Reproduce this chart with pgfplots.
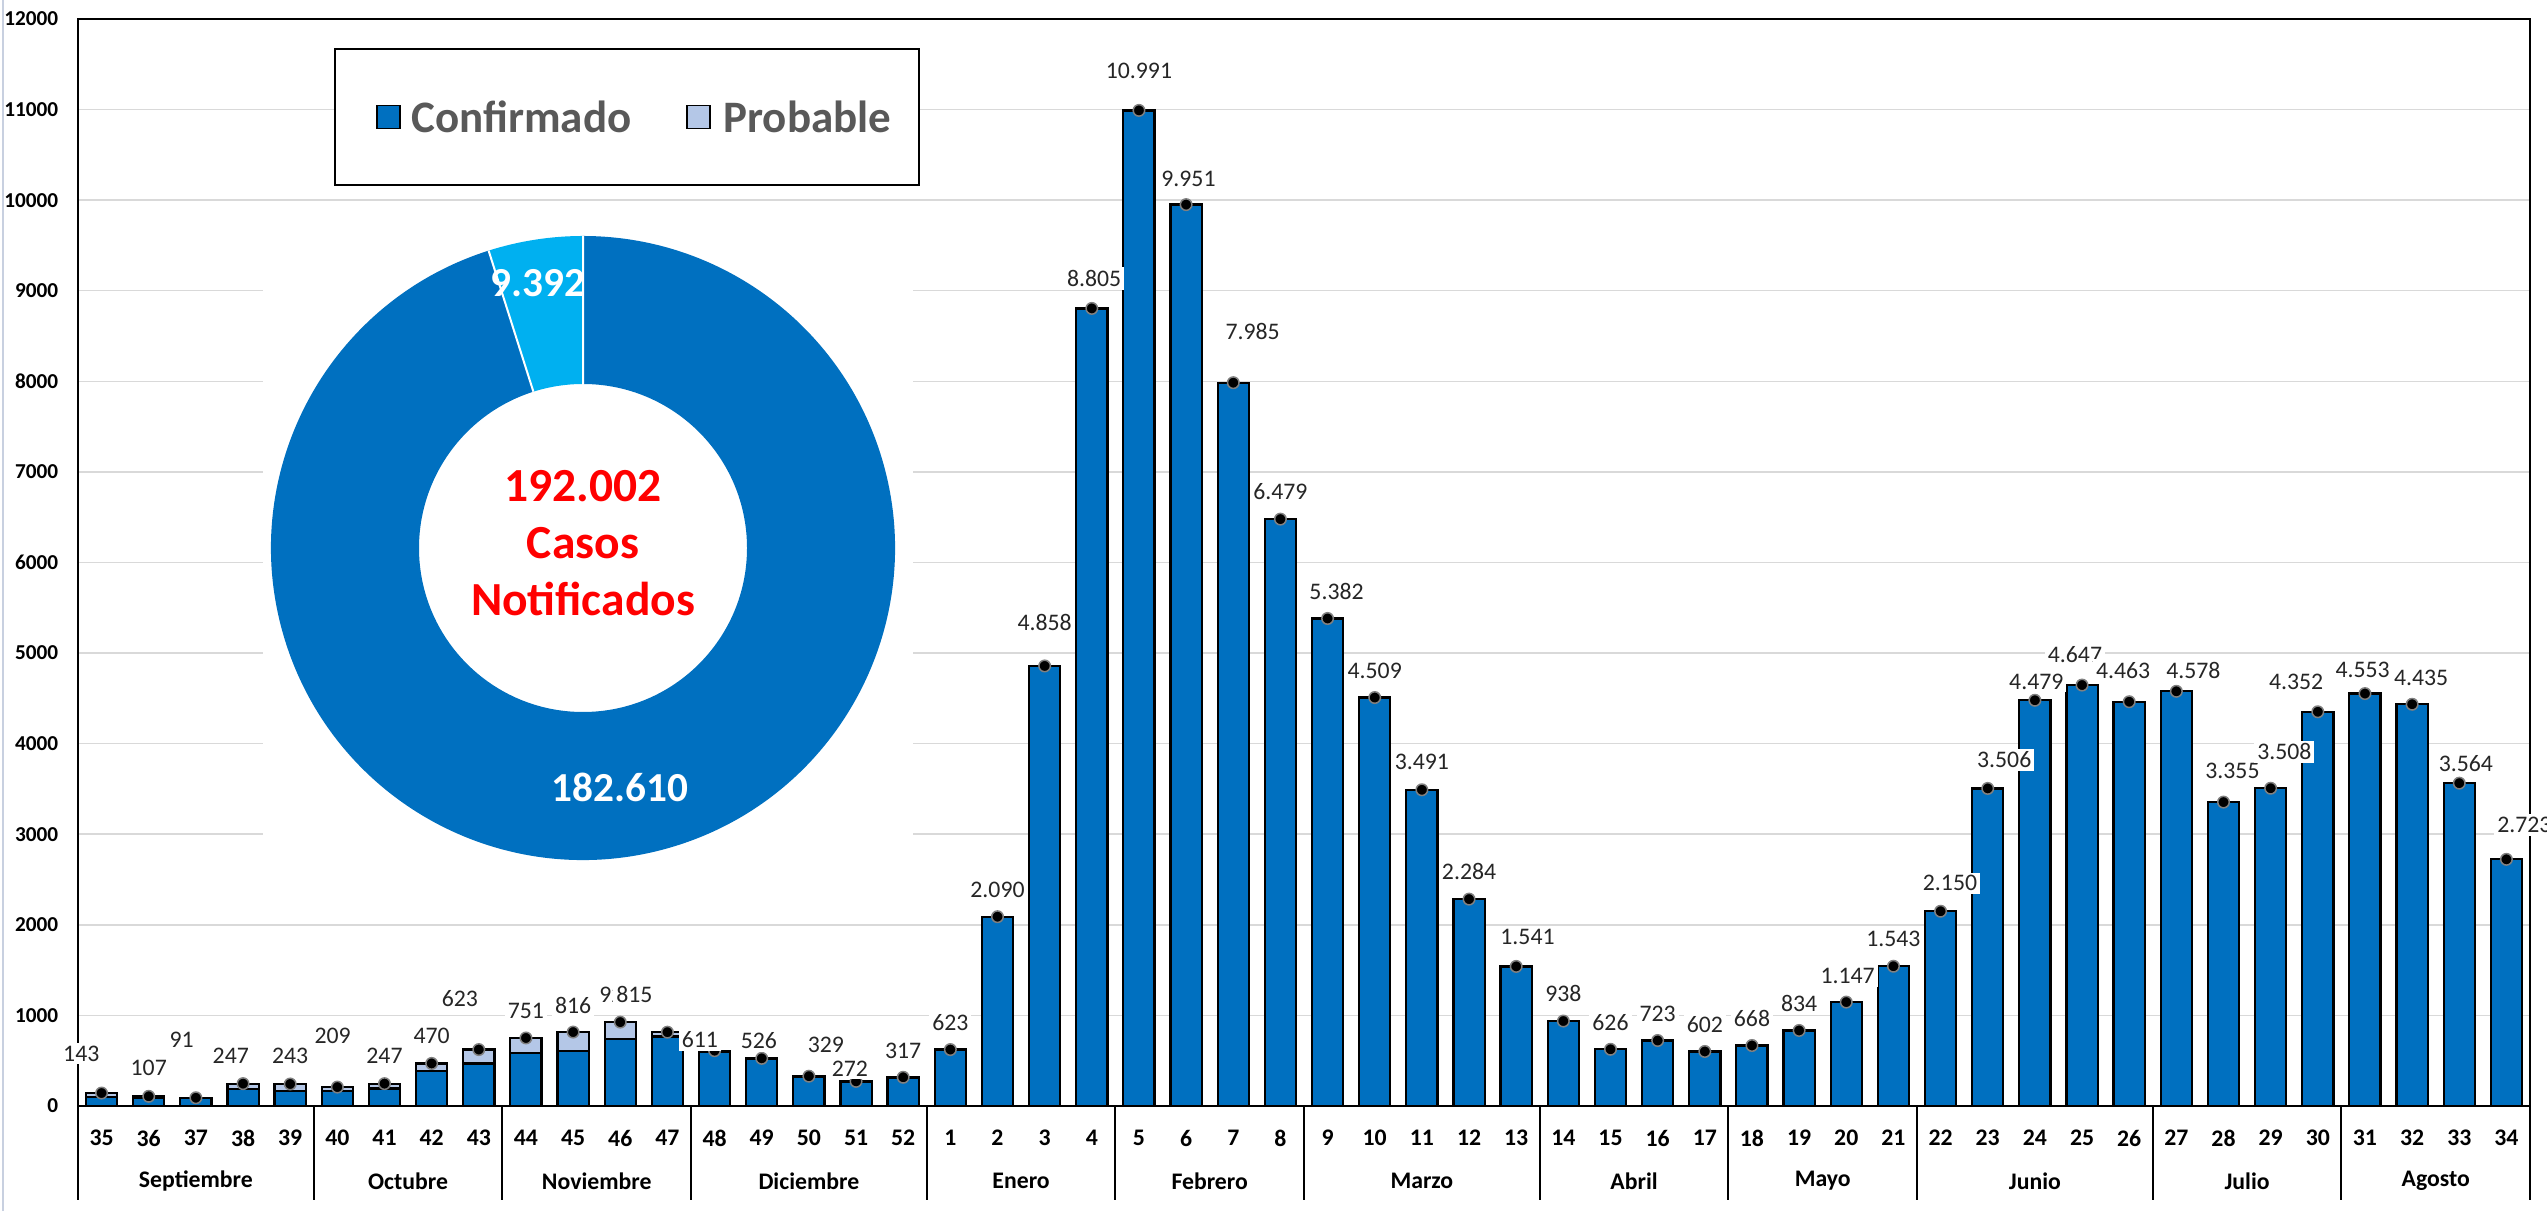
\documentclass[border=0pt]{standalone}
\usepackage{pgfplots}
\pgfplotsset{compat=1.18}
\usepackage{pgfplotstable}
\usepackage{fontspec}
\setmainfont{Carlito}
\definecolor{conf}{HTML}{0070C0}
\definecolor{prob}{HTML}{B4C7E7}
\definecolor{probpie}{HTML}{00B0F0}
\definecolor{gridc}{HTML}{D9D9D9}
\definecolor{legt}{HTML}{595959}
\definecolor{labt}{HTML}{262626}

\pgfplotstableread{
i  wk conf  prob tot   lx     ly    lab
0  35 98    45   143   -0.43  580   143
1  36 95    12   107   1      420   107
2  37 85    6    91    1.7    730   91
3  38 185   62   247   2.74   555   247
4  39 167   76   243   4      555   243
5  40 167   42   209   4.9    770   209
6  41 193   54   247   6      555   247
7  42 389   81   470   7      770   470
8  43 470   153  623   7.6    1190  623
9  44 581   170  751   9      1050  751
10 45 611   205  816   10     1115  816
11 46 737   189  926   10.94  1227  926
12 47 767   48   815   11.3   1227  815
13 48 601   10   611   12.69  730   611
14 49 518   8    526   13.94  722   526
15 50 322   7    329   15.36  674   329
16 51 270   2    272   15.87  415   272
17 52 313   4    317   17     611   317
18 1  623   0    623   18     926   623
19 2  2090  0    2090  19     2390  2.090
20 3  4858  0    4858  20     5340  4.858
21 4  8805  0    8805  21.05  9135  8.805
22 5  10991 0    10991 22     11425 10.991
23 6  9951  0    9951  23.05  10238 9.951
24 7  7985  0    7985  24.41  8547  7.985
25 8  6479  0    6479  25     6784  6.479
26 9  5382  0    5382  26.19  5676  5.382
27 10 4509  0    4509  27     4807  4.509
28 11 3491  0    3491  28     3796  3.491
29 12 2284  0    2284  29     2589  2.284
30 13 1541  0    1541  30.24  1864  1.541
31 14 938   0    938   31     1240  938
32 15 626   0    626   32     926   626
33 16 723   0    723   33     1018  723
34 17 602   0    602   34     900   602
35 18 668   0    668   35     963   668
36 19 834   0    834   36     1130  834
37 20 1147  0    1147  37.03  1435  1.147
38 21 1543  0    1543  38     1841  1.543
39 22 2150  0    2150  39.2   2458  2.150
40 23 3506  0    3506  40.35  3819  3.506
41 24 4479  0    4479  41.03  4686  4.479
42 25 4647  0    4647  41.85  4982  4.647
43 26 4463  0    4463  42.87  4808  4.463
44 27 4578  0    4578  44.36  4808  4.578
45 28 3355  0    3355  45.19  3697  3.355
46 29 3508  0    3508  46.29  3911  3.508
47 30 4352  0    4352  46.54  4686  4.352
48 31 4553  0    4553  47.95  4815  4.553
49 32 4435  0    4435  49.19  4723  4.435
50 33 3564  0    3564  50.14  3775  3.564
51 34 2723  0    2723  51.38  3100  2.723
}\datatable

\begin{document}
\begin{tikzpicture}
\useasboundingbox (0,0) rectangle (1018.8pt,484.4pt);
\draw[color={rgb,255:red,200;green,208;blue,224}, line width=1pt] (1.2pt,0) -- (1.2pt,484.4pt);
\begin{axis}[
  at={(31.2pt,42pt)}, anchor=south west,
  scale only axis, width=980.8pt, height=434.8pt,
  xmin=-0.5, xmax=51.5, ymin=0, ymax=12000,
  ybar stacked, bar width=12.5pt,
  axis line style={black, line width=0.8pt},
  ymajorgrids, grid style={gridc, line width=0.6pt},
  ytick={0,1000,...,12000},
  scaled y ticks=false,
  xtick={0,...,51},
  xticklabels={35,36,37,38,39,40,41,42,43,44,45,46,47,48,49,50,51,52,1,2,3,4,5,6,7,8,9,10,11,12,13,14,15,16,17,18,19,20,21,22,23,24,25,26,27,28,29,30,31,32,33,34},
  major tick length=0pt,
  /pgf/number format/assume math mode=true,
  /pgf/number format/1000 sep={},
  yticklabel style={font=\fontsize{8.5}{10}\selectfont\bfseries, anchor=east, xshift=-4.4pt},
  xticklabel style={font=\fontsize{9.5}{11}\selectfont\bfseries, anchor=center, yshift=-12.8pt},
  clip=false,
]
\addplot[fill=conf, draw=black, line width=0.9pt] table[x=i, y=conf]{\datatable};
\addplot[fill=prob, draw=black, line width=0.9pt] table[x=i, y=prob]{\datatable};
\pgfplotsinvokeforeach{-0.5,4.5,8.5,12.5,17.5,21.5,25.5,30.5,34.5,38.5,43.5,47.5,51.5}{
  \draw[black, line width=0.8pt] (axis cs:#1,0) -- ++(0pt,-37.6pt);
}
\node[font=\fontsize{9.5}{11}\selectfont\bfseries, yshift=-30pt] at (axis cs:2,0) {Septiembre};
\node[font=\fontsize{9.5}{11}\selectfont\bfseries, yshift=-30pt] at (axis cs:6.5,0) {Octubre};
\node[font=\fontsize{9.5}{11}\selectfont\bfseries, yshift=-30pt] at (axis cs:10.5,0) {Noviembre};
\node[font=\fontsize{9.5}{11}\selectfont\bfseries, yshift=-30pt] at (axis cs:15,0) {Diciembre};
\node[font=\fontsize{9.5}{11}\selectfont\bfseries, yshift=-30pt] at (axis cs:19.5,0) {Enero};
\node[font=\fontsize{9.5}{11}\selectfont\bfseries, yshift=-30pt] at (axis cs:23.5,0) {Febrero};
\node[font=\fontsize{9.5}{11}\selectfont\bfseries, yshift=-30pt] at (axis cs:28,0) {Marzo};
\node[font=\fontsize{9.5}{11}\selectfont\bfseries, yshift=-30pt] at (axis cs:32.5,0) {Abril};
\node[font=\fontsize{9.5}{11}\selectfont\bfseries, yshift=-30pt] at (axis cs:36.5,0) {Mayo};
\node[font=\fontsize{9.5}{11}\selectfont\bfseries, yshift=-30pt] at (axis cs:41,0) {Junio};
\node[font=\fontsize{9.5}{11}\selectfont\bfseries, yshift=-30pt] at (axis cs:45.5,0) {Julio};
\node[font=\fontsize{9.5}{11}\selectfont\bfseries, yshift=-30pt] at (axis cs:49.5,0) {Agosto};
\end{axis}

% donut (Confirmado 182.610, Probable 9.392)
\fill[white] (105.2pt,130.4pt) rectangle (365.2pt,392.4pt);
\pgfmathsetmacro{\ang}{360*9.392/192.002}
\pgfmathsetmacro{\aend}{90+\ang}
\begin{scope}[shift={(233.2pt,265.2pt)}]
\fill[conf] (\aend:124.8pt) arc[start angle=\aend, end angle=450, radius=124.8pt] -- (450:65.6pt) arc[start angle=450, end angle=\aend, radius=65.6pt] -- cycle;
\fill[probpie] (90:124.8pt) arc[start angle=90, end angle=\aend, radius=124.8pt] -- (\aend:65.6pt) arc[start angle=\aend, end angle=90, radius=65.6pt] -- cycle;
\draw[white, line width=0.8pt] (90:65.6pt) -- (90:124.8pt) (\aend:65.6pt) -- (\aend:124.8pt);
\end{scope}
\node[text=white, font=\fontsize{16.5}{18}\selectfont\bfseries] at (248pt,169.6pt) {182.610};
\node[text=white, font=\fontsize{16.5}{18}\selectfont\bfseries] at (215.2pt,371pt) {9.392};
\node[text=red, font=\fontsize{19}{22.8}\selectfont\bfseries, align=center] at (233.2pt,267.2pt) {192.002\\Casos\\Notificados};

% legend
\draw[black, line width=0.8pt, fill=white] (134pt,410.4pt) rectangle (367.6pt,464.8pt);
\draw[black, line width=0.6pt, fill=conf] (150.8pt,433pt) rectangle (160pt,442.2pt);
\node[anchor=west, text=legt, font=\fontsize{18}{20}\selectfont\bfseries, inner sep=0pt] at (164.4pt,437.6pt) {Confirmado};
\draw[black, line width=0.6pt, fill=prob] (274.8pt,433pt) rectangle (284pt,442.2pt);
\node[anchor=west, text=legt, font=\fontsize{18}{20}\selectfont\bfseries, inner sep=0pt] at (289.2pt,437.6pt) {Probable};

\begin{axis}[
  at={(31.2pt,42pt)}, anchor=south west,
  scale only axis, width=980.8pt, height=434.8pt,
  xmin=-0.5, xmax=51.5, ymin=0, ymax=12000,
  hide axis, clip=false,
]
\addplot[only marks, mark=*, mark size=2.3pt, mark options={fill=black, draw=gray, line width=0.6pt}] table[x=i, y=tot]{\datatable};
\addplot[mark=none, draw=none, nodes near coords, point meta=explicit symbolic,
  nodes near coords style={anchor=center, fill=white, inner sep=1.2pt, text=labt, font=\fontsize{9.5}{11}\selectfont}]
  table[x=lx, y=ly, meta=lab]{\datatable};
\end{axis}
\end{tikzpicture}
\end{document}
